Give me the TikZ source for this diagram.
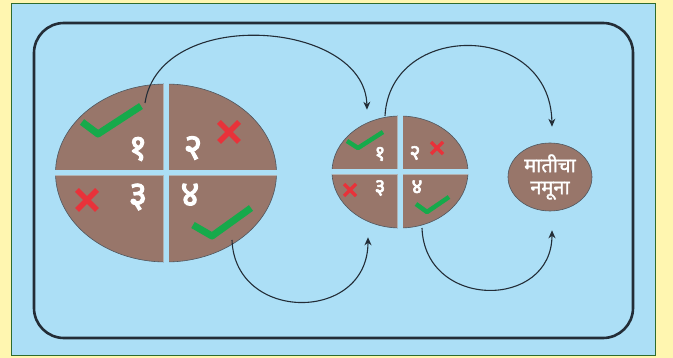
\documentclass[tikz,border=0pt]{standalone}
\usepackage{fontspec}
\newfontfamily\devab[Script=Devanagari,FakeBold=3]{Noto Sans}
\newfontfamily\devat[Script=Devanagari,FakeBold=1.5]{Noto Sans}
\usetikzlibrary{shapes.geometric,arrows.meta}
\definecolor{bgyellow}{RGB}{255,246,176}
\definecolor{panelblue}{RGB}{172,223,246}
\definecolor{soil}{RGB}{152,118,106}
\definecolor{okgreen}{RGB}{22,170,75}
\definecolor{nored}{RGB}{232,50,58}
\definecolor{ink}{RGB}{35,45,55}
\tikzset{
  soilblob/.style={ellipse, fill=soil, draw=ink!80, line width=0.6pt, inner sep=0pt},
  gapline/.style={draw=gray!60, line width=6.5pt},
  gapfill/.style={draw=panelblue, line width=5pt},
  tick/.style={draw=okgreen, line width=#1, line cap=butt, line join=round},
  cross/.style={draw=nored, line width=#1, line cap=butt},
  digitbig/.style={text=white, font=\devab\fontsize{36}{36}\selectfont, inner sep=0pt},
  digitsmall/.style={text=white, font=\devab\fontsize{21}{21}\selectfont, inner sep=0pt},
  flow/.style={draw=ink, line width=1.1pt, -{Stealth[length=8pt,width=7pt]}},
}
\begin{document}
\begin{tikzpicture}[x=1pt,y=-1pt]
\useasboundingbox (0,0) rectangle (673,358);
\fill[bgyellow] (0,0) rectangle (673,358);
\filldraw[fill=panelblue, draw=gray!60!green!60!black, line width=0.8pt] (11,3) rectangle (655,355);
\draw[ink, line width=2.6pt, rounded corners=30pt] (34,23) rectangle (633,338);

% big sample
\node[soilblob, minimum width=221pt, minimum height=178pt] (big) at (166,173) {};
\draw[gapline] (big.north) -- (big.south);
\draw[gapline] (big.west) -- (big.east);
\draw[gapfill] ([yshift=2pt]big.north) -- ([yshift=-2pt]big.south);
\draw[gapfill] ([xshift=-2pt]big.west) -- ([xshift=2pt]big.east);
\node[digitbig] (b1) at (138,149) {१};
\node[digitbig] (b2) at (193,148) {२};
\node[digitbig] (b3) at (138,197) {३};
\node[digitbig] (b4) at (190,195) {४};
\draw[tick=7pt] (82,122) -- (98,134) -- (141,106);
\draw[tick=7pt] (193,225) -- (212,236) -- (251,208);
\draw[cross=5.5pt] (219,122) -- (239,142) (239,122) -- (219,142);
\draw[cross=5.5pt] (77,190) -- (97,210) (97,190) -- (77,210);

% small sample
\node[soilblob, minimum width=136pt, minimum height=112pt] (small) at (400,172) {};
\draw[gapline] (small.north) -- (small.south);
\draw[gapline] (small.west) -- (small.east);
\draw[gapfill] ([yshift=2pt]small.north) -- ([yshift=-2pt]small.south);
\draw[gapfill] ([xshift=-2pt]small.west) -- ([xshift=2pt]small.east);
\node[digitsmall] (s1) at (380,154) {१};
\node[digitsmall] (s2) at (415,153) {२};
\node[digitsmall] (s3) at (380,188) {३};
\node[digitsmall] (s4) at (417,187) {४};
\draw[tick=4.5pt] (347,141) -- (358,148) -- (383,132);
\draw[tick=4.5pt] (416,204) -- (427,212) -- (449,197);
\draw[cross=3.5pt] (431,142) -- (443,154) (443,142) -- (431,154);
\draw[cross=3.5pt] (344,184) -- (356,196) (356,184) -- (344,196);

% final sample
\node[soilblob, minimum width=84pt, minimum height=68pt, text=white,
      font=\devat\fontsize{20}{22}\selectfont, align=center] (final) at (550,177) {मातीचा\\नमूना};

% flow arrows
\coordinate (a1s) at (145,103);
\coordinate (a1e) at ([xshift=-33pt,yshift=6pt]small.north);
\coordinate (a2s) at (385,116);
\coordinate (a2e) at ([xshift=2pt,yshift=16pt]final.north);
\coordinate (a3s) at (232,240);
\coordinate (a3e) at ([xshift=-32pt,yshift=-9pt]small.south);
\coordinate (a4s) at (422,228);
\coordinate (a4e) at ([xshift=2pt,yshift=-19pt]final.south);
\draw[flow] (a1s) .. controls (160,5) and (365,20) .. (a1e);
\draw[flow] (a2s) .. controls (390,21) and (550,21) .. (a2e);
\draw[flow] (a3s) .. controls (235,323) and (368,323) .. (a3e);
\draw[flow] (a4s) .. controls (425,310) and (552,310) .. (a4e);
\end{tikzpicture}
\end{document}
